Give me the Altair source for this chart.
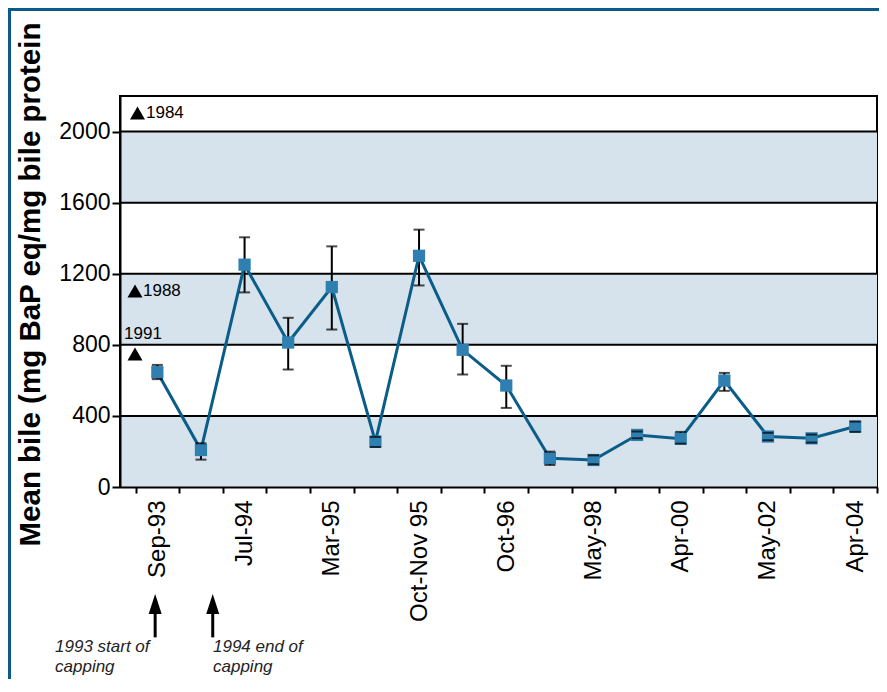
import altair as alt
import pandas as pd

# ---- data ----
sample_idx = [0, 1, 2, 3, 4, 5, 6, 7, 8, 9, 10, 11, 12, 13, 14, 15, 16]
tick_labels = ["Sep-93", "", "Jul-94", "", "Mar-95", "", "Oct-Nov 95", "", "Oct-96", "",
               "May-98", "", "Apr-00", "", "May-02", "", "Apr-04"]
mean_bile = [646, 208, 1251, 813, 1125, 255, 1301, 772, 571, 162, 152, 293, 272, 599, 284, 274, 340]
err_low = [607, 154, 1095, 661, 886, 225, 1134, 633, 445, 124, 128, 275, 244, 541, 263, 250, 310]
err_high = [687, 246, 1405, 952, 1354, 282, 1448, 918, 682, 199, 178, 312, 310, 642, 305, 295, 368]

band_low = [0, 800, 1600]
band_high = [400, 1200, 2000]
grid_values = [400, 800, 1200, 1600, 2000]
y_ticks = [0, 400, 800, 1200, 1600, 2000]

# reference years (triangles + labels)
tri_x = [-0.455, -0.512, -0.512]
tri_y = [2104, 1103, 748]
year_text = ["1984", "1988", "1991"]
year_x = [-0.26, -0.329, -0.764]
year_y = [2104, 1103, 861]

arrow_x = [-0.05, 1.27]
arrow_head_y = [-658, -658]
arrow_top = [-690, -690]
arrow_bottom = [-846, -846]

caption_text = ["1993 start of", "capping", "1994 end of", "capping"]
caption_x = [-2.346, -2.346, 1.276, 1.276]
caption_y = [-900, -1010, -900, -1010]

W, H = 757, 391
FONT = "Liberation Sans"

df = pd.DataFrame({"idx": sample_idx, "mean": mean_bile, "lo": err_low, "hi": err_high})
bands = pd.DataFrame({"lo": band_low, "hi": band_high})
grid = pd.DataFrame({"g": grid_values})
tris = pd.DataFrame({"x": tri_x, "y": tri_y})
years = pd.DataFrame({"t": year_text, "x": year_x, "y": year_y})
arrows = pd.DataFrame({"x": arrow_x, "head": arrow_head_y, "top": arrow_top, "bot": arrow_bottom})
caps = pd.DataFrame({"t": caption_text, "x": caption_x, "y": caption_y})

half_vals = [i - 0.5 for i in range(18)]
label_vals = [i for i, l in enumerate(tick_labels) if l]
label_expr = "[" + ",".join("'" + l + "'" for l in tick_labels) + "][datum.value] || ''"

x_axis = alt.Axis(
    values=half_vals + label_vals, labelExpr=label_expr, grid=False, title=None,
    domainColor="black", domainWidth=2, tickColor="black", tickWidth=2, tickSize=6,
    tickOpacity={"condition": {"test": "datum.value % 1 !== 0", "value": 1}, "value": 0},
    labelAngle=270, labelFontSize=24, labelFont=FONT, labelColor="black", labelPadding=7,
    labelOverlap=False, labelFlush=False, labelBound=False, zindex=1,
)
y_axis = alt.Axis(
    values=y_ticks, format="d", grid=False, domainColor="black", domainWidth=2, tickColor="black",
    tickWidth=2, tickSize=8, labelFontSize=23, labelFont=FONT, labelColor="black", labelPadding=2,
    title="Mean bile (mg BaP eq/mg bile protein", titleFontSize=29.5, titleFont=FONT,
    titleFontWeight="bold", titleColor="black", titleX=-90, titleY=188, titleAngle=270,
    titleAlign="center", titleBaseline="middle", zindex=1,
)
xs = alt.Scale(domain=[-0.856, 16.5], nice=False, zero=False)
ys = alt.Scale(domain=[0, 2200], nice=False, zero=False)


def X(f):
    return alt.X(f, type="quantitative", scale=xs, axis=x_axis, title=None)


def Y(f):
    return alt.Y(f, type="quantitative", scale=ys, axis=y_axis)


band_layer = alt.Chart(bands).mark_rect(color="#d6e2ec").encode(y=Y("lo"), y2=alt.Y2("hi"))
grid_layer = alt.Chart(grid).mark_rule(color="black", strokeWidth=2).encode(y=Y("g"))
err_layer = alt.Chart(df).mark_rule(color="black", strokeWidth=2).encode(
    x=X("idx"), y=Y("lo"), y2=alt.Y2("hi"))
line_layer = alt.Chart(df).mark_line(color="#0b5d89", strokeWidth=3).encode(x=X("idx"), y=Y("mean"))
pt_layer = alt.Chart(df).mark_point(shape="square", filled=True, size=150, color="#2f80b0",
                                    opacity=1).encode(x=X("idx"), y=Y("mean"))
cap_lo = alt.Chart(df).mark_tick(orient="horizontal", size=11, thickness=2, color="black").encode(
    x=X("idx"), y=Y("lo"))
cap_hi = alt.Chart(df).mark_tick(orient="horizontal", size=11, thickness=2, color="black").encode(
    x=X("idx"), y=Y("hi"))
tri_layer = alt.Chart(tris).mark_point(shape="M0,-0.87L1,0.87L-1,0.87Z", filled=True, size=225,
                                       color="black", opacity=1).encode(x=X("x"), y=Y("y"))
year_layer = alt.Chart(years).mark_text(align="left", baseline="middle", font=FONT, fontSize=17,
                                        color="black").encode(x=X("x"), y=Y("y"), text="t:N")
shaft = alt.Chart(arrows).mark_rule(color="black", strokeWidth=3).encode(
    x=X("x"), y=Y("top"), y2=alt.Y2("bot"))
head = alt.Chart(arrows).mark_point(shape="M0,-1L0.65,1L-0.65,1Z", filled=True, size=400,
                                    color="black", opacity=1).encode(x=X("x"), y=Y("head"))
cap_text = alt.Chart(caps).mark_text(align="left", baseline="middle", font=FONT, fontSize=17,
                                     fontStyle="italic", color="#222222").encode(
    x=X("x"), y=Y("y"), text="t:N")
frame_left = alt.Chart(grid).mark_rule(color="#0b5a8a", strokeWidth=3).encode(
    x=alt.value(-110.5), y=alt.value(-88), y2=alt.value(H + 192))
frame_top = alt.Chart(grid).mark_rule(color="#0b5a8a", strokeWidth=3).encode(
    y=alt.value(-86.5), x=alt.value(-112), x2=alt.value(W + 2))

chart = alt.layer(
    band_layer, grid_layer, err_layer, line_layer, pt_layer, cap_lo, cap_hi,
    tri_layer, year_layer, shaft, head, cap_text, frame_left, frame_top
).properties(
    width=W, height=H,
    padding={"left": 112, "top": 88, "right": 2, "bottom": 192},
    autosize=alt.AutoSizeParams(type="none"),
    background="white",
).configure_view(stroke="black", strokeWidth=2)

chart.save("out.html", embed_options={"renderer": "svg", "actions": False})
